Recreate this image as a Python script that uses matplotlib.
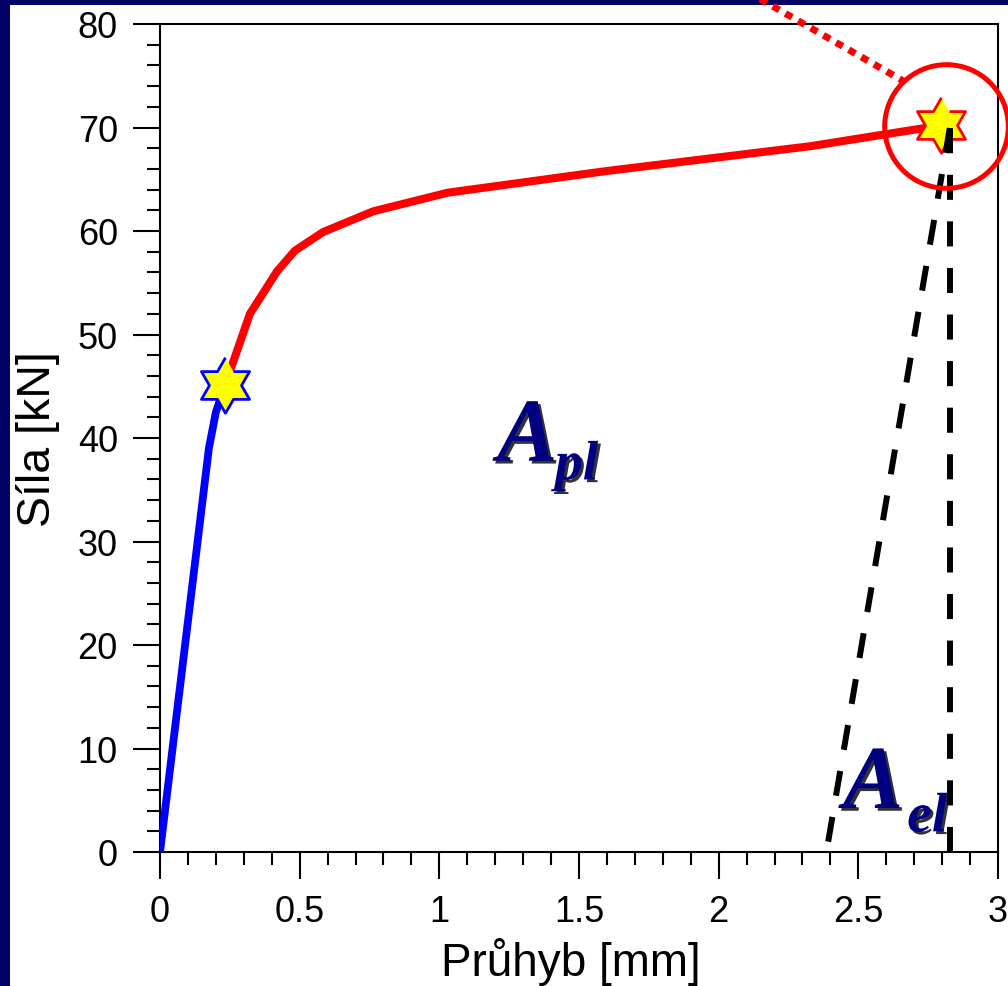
import numpy as np
import matplotlib
matplotlib.use("Agg")
import matplotlib.pyplot as plt
import matplotlib.patheffects as pe
from matplotlib.patches import Rectangle

# elastic branch (blue) and plastic branch (red) of the force-deflection curve
elastic_x = [0.0, 0.175, 0.2, 0.233]
elastic_y = [0.0, 39.0, 42.5, 45.1]
plastic_x = [0.233, 0.322, 0.419, 0.483, 0.584, 0.763, 1.03, 1.6, 2.33, 2.796]
plastic_y = [45.1, 52.0, 56.1, 58.1, 59.9, 61.9, 63.7, 65.8, 68.2, 70.2]

# unloading lines (black dashed)
slant_x = [2.392, 2.829]
slant_y = [1.0, 70.2]
vert_x = [2.829, 2.829]
vert_y = [0.0, 70.2]

# dotted pointer towards the circled point
pointer_x = [2.13, 2.667]
pointer_y = [82.7, 74.4]

yield_pt = (0.233, 45.1)
max_pt = (2.796, 70.2)
circle_pt = (2.814, 70.1)

xticks = [0, 0.5, 1, 1.5, 2, 2.5, 3]
xtick_labels = ["0", "0.5", "1", "1.5", "2", "2.5", "3"]
yticks = [0, 10, 20, 30, 40, 50, 60, 70, 80]
ytick_labels = ["0", "10", "20", "30", "40", "50", "60", "70", "80"]

plt.rcParams['font.family'] = ['Liberation Sans', 'DejaVu Sans']

fig = plt.figure(figsize=(10.08, 9.87), dpi=100)
fig.patch.set_facecolor('#000066')
fig.patches.append(Rectangle((10 / 1008, 0), 1, 981 / 987, transform=fig.transFigure,
                             facecolor='white', edgecolor='none', zorder=-10))

ax = fig.add_axes([160 / 1008, 1 - 853 / 987, 838 / 1008, 828 / 987])
ax.set_facecolor('white')

# hexagram marker
ang_out = np.deg2rad(90 + 60 * np.arange(6))
ang_in = ang_out + np.deg2rad(30)
r_in = 1 / np.sqrt(3)
star = []
for a, b in zip(ang_out, ang_in):
    star.append((np.cos(a), np.sin(a)))
    star.append((r_in * np.cos(b), r_in * np.sin(b)))

ax.plot(elastic_x, elastic_y, color='blue', lw=5.6, solid_capstyle='round', zorder=3)
ax.plot(plastic_x, plastic_y, color='red', lw=5.8, solid_joinstyle='miter', zorder=3)

ax.plot([yield_pt[0]], [yield_pt[1]], marker=star, ms=40, mfc='yellow', mec='blue',
        mew=2, ls='none', zorder=5)
ax.plot([max_pt[0]], [max_pt[1]], marker=star, ms=40, mfc='yellow', mec='red',
        mew=2, ls='none', zorder=5)

ax.plot(slant_x, slant_y, color='black', lw=4.3, dashes=(4.2, 3.6), zorder=6)
ax.plot(vert_x, vert_y, color='black', lw=4.3, dashes=(4.2, 3.6), zorder=6)

ax.plot([circle_pt[0]], [circle_pt[1]], marker='o', ms=89, mfc='none', mec='red',
        mew=3.6, ls='none', clip_on=False, zorder=7)
ax.plot(pointer_x, pointer_y, color='red', lw=5, dashes=(1.1, 1.0),
        dash_capstyle='butt', clip_on=False, zorder=7)

# area labels
shadow = [pe.SimplePatchShadow(offset=(2, -2), shadow_rgbFace='black', alpha=0.8), pe.Normal()]
tkw = dict(family=['Liberation Serif', 'DejaVu Serif'], weight='bold', style='italic',
           color='#000080', ha='left', va='baseline', path_effects=shadow, zorder=8)
ax.text(1.207, 37.8, "A", fontsize=65, **tkw)
ax.text(1.414, 36.0, "pl", fontsize=40, **tkw)
ax.text(2.445, 4.25, "A", fontsize=65, **tkw)
ax.text(2.675, 2.0, "el", fontsize=40, **tkw)

ax.set_xlim(0, 3)
ax.set_ylim(0, 80)
ax.set_xticks(xticks)
ax.set_xticklabels(xtick_labels)
ax.set_yticks(yticks)
ax.set_yticklabels(ytick_labels)
ax.set_xticks(np.arange(0, 3.01, 0.1), minor=True)
ax.set_yticks(np.arange(0, 80.1, 2), minor=True)
ax.tick_params(which='major', direction='out', length=19.4, width=1.5, labelsize=26, pad=11)
ax.tick_params(which='minor', direction='out', length=9.5, width=1.5)
ax.tick_params(top=False, right=False)
for s in ax.spines.values():
    s.set_linewidth(1.5)

ax.set_xlabel("Průhyb [mm]", fontsize=33)
ax.xaxis.set_label_coords(0.49, (853 - 976) / 828)
ax.xaxis.label.set_verticalalignment('baseline')
ax.set_ylabel("Síla [kN]", fontsize=33.5)
ax.yaxis.set_label_coords(-0.146, 0.5)
ax.yaxis.label.set_verticalalignment('center')

fig.savefig("out.png", dpi=100, facecolor=fig.get_facecolor())
